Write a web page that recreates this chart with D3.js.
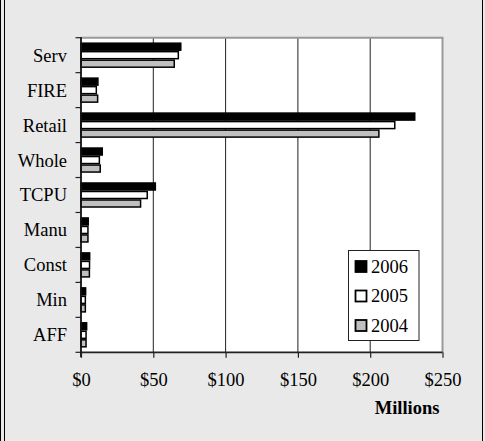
<!DOCTYPE html>
<html><head><meta charset="utf-8">
<script src="https://cdn.jsdelivr.net/npm/d3@7/dist/d3.min.js"></script>
<style>
html,body{margin:0;padding:0;background:#e9e9e9;}
svg{display:block;font-family:"Liberation Serif","Times New Roman",serif;}
</style></head>
<body>
<svg id="c" width="485" height="441"></svg>
<script>
const categories = ["Serv","FIRE","Retail","Whole","TCPU","Manu","Const","Min","AFF"];
const seriesNames = ["2006","2005","2004"];
const v2006 = [69, 11.7, 230.8, 14.7, 51.4, 5, 6, 3.2, 3.9];
const v2005 = [67.3, 10.6, 217, 12.7, 45.8, 4.8, 5.9, 3, 3.5];
const v2004 = [64.5, 11.5, 206, 13.3, 41.2, 4.8, 5.8, 3, 3.5];
const xTicks = [0, 50, 100, 150, 200, 250];
const xTickLabels = ["$0","$50","$100","$150","$200","$250"];
const axisTitle = "Millions";

const seriesValues = [v2006, v2005, v2004];
const fills = ["#000000", "#ffffff", "#c0c0c0"];

const svg = d3.select("#c");
const W = 485, H = 441;
svg.append("rect").attr("width", W).attr("height", H).attr("fill", "#e9e9e9");
// outer frame
svg.append("line").attr("x1",0.5).attr("x2",0.5).attr("y1",0).attr("y2",H).attr("stroke","#000");
svg.append("line").attr("x1",4.5).attr("x2",4.5).attr("y1",0).attr("y2",H).attr("stroke","#000");
svg.append("line").attr("x1",482.5).attr("x2",482.5).attr("y1",0).attr("y2",H).attr("stroke","#000");

const L = 81, R = 442.5, T = 37.7, B = 352.3;
const x = d3.scaleLinear().domain([0, 250]).range([L, R]);
const y = d3.scaleBand().domain(categories).range([T, B]).paddingInner(0.27).paddingOuter(0.135);
const ys = d3.scaleBand().domain(seriesNames).range([0, y.bandwidth()]);

// plot area
svg.append("rect").attr("x", L).attr("y", T).attr("width", R - L).attr("height", B - T).attr("fill", "#fff");

// gridlines
svg.append("g").selectAll("line").data(xTicks.slice(1, -1)).join("line")
  .attr("x1", d => x(d)).attr("x2", d => x(d)).attr("y1", T).attr("y2", B)
  .attr("stroke", "#222").attr("stroke-width", 1);

// plot border top/right
svg.append("path").attr("d", `M${L},${T}H${R}V${B}`).attr("fill","none").attr("stroke","#999").attr("stroke-width",2);

// bars
const g = svg.append("g");
seriesNames.forEach((s, si) => {
  g.append("g").selectAll("rect").data(categories).join("rect")
    .attr("x", x(0))
    .attr("y", (d) => y(d) + ys(s) + 0.75)
    .attr("width", (d, i) => x(seriesValues[si][i]) - x(0))
    .attr("height", ys.bandwidth() - 1.5)
    .attr("fill", fills[si]).attr("stroke", "#000").attr("stroke-width", 1.5);
});

// y axis
const yAxis = d3.axisLeft(y).tickSize(0).tickPadding(14);
const yg = svg.append("g").attr("transform", `translate(${L},0)`).call(yAxis);
yg.select(".domain").remove();
yg.selectAll("text").attr("font-size", 18.5).attr("fill", "#000").attr("font-family", "Liberation Serif").attr("dy", "0.35em");
// y ticks at band boundaries
const bounds = d3.range(categories.length + 1).map(i => T + i * y.step());
svg.append("g").selectAll("line").data(bounds).join("line")
  .attr("x1", L - 5.5).attr("x2", L).attr("y1", d => d).attr("y2", d => d)
  .attr("stroke", "#222").attr("stroke-width", 1.2);
svg.append("line").attr("x1", L).attr("x2", L).attr("y1", T - 0.5).attr("y2", B + 5).attr("stroke", "#111").attr("stroke-width", 1.8);

// x axis
const xAxis = d3.axisBottom(x).tickValues(xTicks).tickFormat((d, i) => xTickLabels[i]).tickSize(5.5).tickPadding(15);
const xg = svg.append("g").attr("transform", `translate(0,${B})`).call(xAxis);
xg.select(".domain").attr("stroke", "#222").attr("stroke-width", 1.8).attr("d", `M${L},0H${R}`);
xg.selectAll(".tick line").attr("stroke", "#222").attr("stroke-width", 1.2);
xg.selectAll("text").attr("font-size", 18.5).attr("fill", "#000").attr("font-family", "Liberation Serif");

svg.append("text").attr("x", 439.5).attr("y", 414).attr("text-anchor", "end")
  .attr("font-size", 18.5).attr("font-weight", "bold").text(axisTitle);

// legend
const lg = svg.append("g");
lg.append("rect").attr("x", 348.5).attr("y", 250.5).attr("width", 70.5).attr("height", 90)
  .attr("fill", "#fff").attr("stroke", "#222").attr("stroke-width", 1);
seriesNames.forEach((s, i) => {
  const yy = 261 + i * 29.5;
  lg.append("rect").attr("x", 355.5).attr("y", yy).attr("width", 11).attr("height", 11)
    .attr("fill", fills[i]).attr("stroke", "#000").attr("stroke-width", 1.8);
  lg.append("text").attr("x", 371).attr("y", yy + 11.5).attr("font-size", 18.5).text(s);
});
</script>
</body></html>
